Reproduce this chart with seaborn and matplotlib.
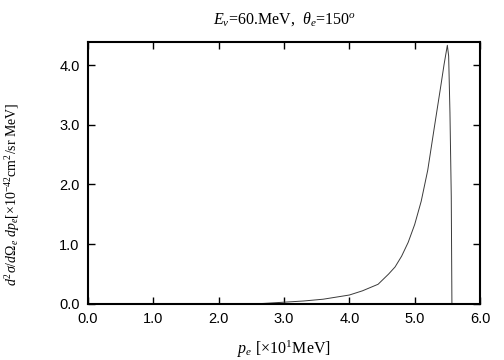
import numpy as np
import pandas as pd
import matplotlib
matplotlib.use("Agg")
import matplotlib.pyplot as plt
import seaborn as sns

# electron momentum [x10 MeV] and cross section [x10^-42 cm^2/sr MeV]
p_e = [2.5, 2.7, 3.0, 3.3, 3.6, 4.0, 4.2, 4.44, 4.6, 4.7, 4.8, 4.9,
       5.0, 5.1, 5.2, 5.3, 5.4, 5.45, 5.5, 5.52, 5.54, 5.56, 5.57]
xsec = [0.0, 0.01, 0.03, 0.05, 0.08, 0.15, 0.22, 0.33, 0.50, 0.62, 0.80, 1.03,
        1.33, 1.72, 2.24, 2.95, 3.65, 4.01, 4.33, 4.15, 3.2, 1.8, 0.0]

x_ticks = [0, 1, 2, 3, 4, 5, 6]
y_ticks = [0, 1, 2, 3, 4]

sns.set_style("ticks")
plt.rcParams["font.family"] = ["Liberation Sans", "DejaVu Sans"]
plt.rcParams["mathtext.fontset"] = "custom"
plt.rcParams["mathtext.rm"] = "Liberation Serif"
plt.rcParams["mathtext.it"] = "Liberation Serif:italic"
plt.rcParams["mathtext.bf"] = "Liberation Serif:bold"
plt.rcParams["text.color"] = "black"
plt.rcParams["axes.labelcolor"] = "black"
plt.rcParams["xtick.color"] = "black"
plt.rcParams["ytick.color"] = "black"

df = pd.DataFrame({"p": p_e, "xs": xsec})

fig = plt.figure(figsize=(5.04, 3.6), dpi=100)
ax = fig.add_axes([0.1746, 0.1556, 0.9524 - 0.1746, 0.8833 - 0.1556])
sns.lineplot(data=df, x="p", y="xs", estimator=None, color="#3a3a3a",
             linewidth=0.7, ax=ax)

ax.set_xlim(0, 6)
ax.set_ylim(0, 4.385)
ax.set_xticks(x_ticks)
ax.set_xticklabels([f"{t:.1f}" for t in x_ticks])
ax.set_yticks(y_ticks)
ax.set_yticklabels([f"{t:.1f}" for t in y_ticks])
ax.tick_params(direction="in", length=5, width=1, top=True, right=True,
               labelsize=10.5, pad=6)
for s in ax.spines.values():
    s.set_linewidth(1.5)
    s.set_color("black")
    s.set_visible(True)

serif = ["Liberation Serif", "DejaVu Serif"]
ax.set_title(r"$E_\nu$=60.MeV,  $\theta_e$=150$^o$", fontsize=11.5,
             family=serif, pad=13)
ax.set_xlabel(r"$p_e$ [$\times$10$^1$MeV]", fontsize=11.5, family=serif,
              labelpad=9)
ax.set_ylabel(r"$d^2\sigma/d\Omega_e\ dp_e$[$\times$10$^{-42}$cm$^2$/sr MeV]",
              fontsize=10, family=serif)
ax.yaxis.set_label_coords(-0.168, 0.42)

fig.savefig("out.png", dpi=100)
